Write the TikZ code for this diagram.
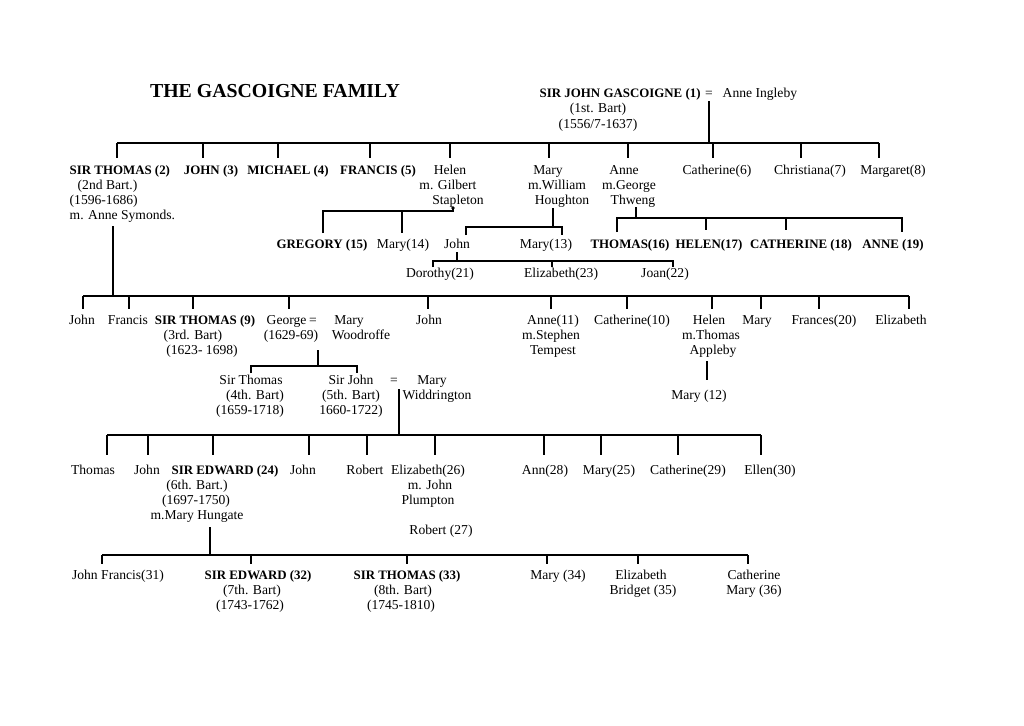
\documentclass[tikz,border=0pt]{standalone}
\usepackage{fontspec}
\setmainfont{Liberation Serif}
\newcommand\mytick[3]{\draw (#1,#2) -- (#1,#3);}
\begin{document}
\begin{tikzpicture}[x=1pt,y=-1pt,
  t/.style={anchor=base,inner sep=0pt,font=\fontsize{13.6}{15}\selectfont},
  tw/.style={t,anchor=base west},
  b/.style={t,font=\fontsize{12.9}{15}\selectfont\bfseries},
  bw/.style={b,anchor=base west},
  every path/.style={line width=1.4pt}]
\useasboundingbox (0,0) rectangle (1024,725);
\fill[white] (0,0) rectangle (1024,725);
% title
\node[anchor=base,inner sep=0pt,font=\fontsize{19.8}{22}\selectfont\bfseries] (title) at (275,97) {THE GASCOIGNE FAMILY};
% generation 1
\node[bw] (sj) at (539,97) {SIR JOHN GASCOIGNE (1)};
\node[t] (eq1) at (709,97) {=};
\node[tw] (ai) at (722,97) {Anne Ingleby};
\node[t] (sj1) at (598,112) {(1st. Bart)};
\node[t] (sj2) at (598,128) {(1556/7-1637)};
\coordinate (m1) at (709,101);
\coordinate (bar1) at (709,143);
\draw (m1) -- (bar1);
\draw (117,143) -- (879,143);
\foreach \x in {117,203,278,370,450,549,628,713,801,879} {\mytick{\x}{143}{158}}
% generation 2
\node[bw] (st2) at (69,174) {SIR THOMAS (2)};
\node[tw] (st2a) at (77,189) {(2nd Bart.)};
\node[tw] (st2b) at (69,204) {(1596-1686)};
\node[tw] (st2c) at (69,219) {m. Anne Symonds.};
\node[b] (j3) at (211,174) {JOHN (3)};
\node[b] (m4) at (288,174) {MICHAEL (4)};
\node[b] (f5) at (378,174) {FRANCIS (5)};
\node[t] (he) at (450,174) {Helen};
\node[t] (hea) at (448,189) {m. Gilbert};
\node[t] (heb) at (458,204) {Stapleton};
\node[t] (ma) at (548,174) {Mary};
\node[t] (maa) at (557,189) {m.William};
\node[t] (mab) at (562,204) {Houghton};
\node[t] (an) at (624,174) {Anne};
\node[t] (ana) at (629,189) {m.George};
\node[t] (anb) at (633,204) {Thweng};
\node[t] (c6) at (717,174) {Catherine(6)};
\node[t] (c7) at (810,174) {Christiana(7)};
\node[t] (m8) at (893,174) {Margaret(8)};
% Stapleton children
\draw (323,233) -- (323,211) -- (453,211) -- (453,207);
\fill (453,208) circle (1.8pt);
\mytick{402}{211}{233}
% Houghton children
\draw (553,208) -- (553,227);
\draw (466,235) -- (466,227) -- (562,227) -- (562,235);
% Thweng children
\draw (636,207) -- (636,218);
\draw (617,232) -- (617,218) -- (902,218) -- (902,232);
\foreach \x in {706,786} {\mytick{\x}{218}{230}}
% generation 3
\node[b] (g15) at (322,248) {GREGORY (15)};
\node[t] (m14) at (403,248) {Mary(14)};
\node[t] (jo) at (457,248) {John};
\node[t] (m13) at (546,248) {Mary(13)};
\node[b] (t16) at (630,248) {THOMAS(16)};
\node[b] (h17) at (709,248) {HELEN(17)};
\node[b] (c18) at (801,248) {CATHERINE (18)};
\node[b] (a19) at (893,248) {ANNE (19)};
% John's children
\draw (457,252) -- (457,261);
\draw (433,267) -- (433,261) -- (673,261) -- (673,267);
\mytick{552}{261}{267}
\node[t] (d21) at (440,277) {Dorothy(21)};
\node[t] (e23) at (561,277) {Elizabeth(23)};
\node[t] (j22) at (665,277) {Joan(22)};
% Sir Thomas (2) children
\draw (113,226) -- (113,296);
\draw (83,296) -- (909,296);
\foreach \x in {83,129,193,289,428,551,627,712,761,819,909} {\mytick{\x}{296}{309}}
\node[t] (r4a) at (82,324) {John};
\node[t] (r4b) at (128,324) {Francis};
\node[b] (st9) at (205,324) {SIR THOMAS (9)};
\node[t] (st9a) at (193,339) {(3rd. Bart)};
\node[t] (st9b) at (202,354) {(1623- 1698)};
\node[tw] (ge) at (266,324) {George};
\node[t] (eq2) at (313,324) {=};
\node[t] (mw) at (349,324) {Mary};
\node[t] (gea) at (291,339) {(1629-69)};
\node[t] (mwa) at (361,339) {Woodroffe};
\node[t] (r4j) at (429,324) {John};
\node[t] (a11) at (553,324) {Anne(11)};
\node[t] (a11a) at (551,339) {m.Stephen};
\node[t] (a11b) at (553,354) {Tempest};
\node[t] (c10) at (632,324) {Catherine(10)};
\node[t] (hl) at (709,324) {Helen};
\node[t] (hla) at (711,339) {m.Thomas};
\node[t] (hlb) at (713,354) {Appleby};
\node[t] (r4m) at (757,324) {Mary};
\node[t] (f20) at (824,324) {Frances(20)};
\node[t] (r4e) at (901,324) {Elizabeth};
% Appleby child
\draw (707,361) -- (707,380);
\node[t] (m12) at (699,399) {Mary (12)};
% George's children
\draw (318,350) -- (318,366);
\draw (251,373) -- (251,366) -- (357,366) -- (357,373);
\node[t] (st4) at (251,384) {Sir Thomas};
\node[t] (st4a) at (255,399) {(4th. Bart)};
\node[t] (st4b) at (250,414) {(1659-1718)};
\node[t] (sj5) at (351,384) {Sir John};
\node[t] (sj5a) at (351,399) {(5th. Bart)};
\node[t] (sj5b) at (351,414) {1660-1722)};
\node[t] (eq3) at (394,384) {=};
\node[t] (mwi) at (432,384) {Mary};
\node[t] (mwia) at (437,399) {Widdrington};
% Sir John (5) children
\draw (399,389) -- (399,435);
\draw (107,435) -- (761,435);
\foreach \x in {107,148,213,309,367,435,544,601,678,761} {\mytick{\x}{435}{455}}
\node[t] (r5a) at (93,474) {Thomas};
\node[t] (r5b) at (147,474) {John};
\node[b] (se24) at (225,474) {SIR EDWARD (24)};
\node[t] (se24a) at (197,489) {(6th. Bart.)};
\node[t] (se24b) at (196,504) {(1697-1750)};
\node[t] (se24c) at (197,519) {m.Mary Hungate};
\node[t] (r5j) at (303,474) {John};
\node[t] (r5r) at (365,474) {Robert};
\node[t] (e26) at (428,474) {Elizabeth(26)};
\node[t] (e26a) at (430,489) {m. John};
\node[t] (e26b) at (428,504) {Plumpton};
\node[t] (r27) at (441,534) {Robert (27)};
\node[t] (a28) at (545,474) {Ann(28)};
\node[t] (m25) at (609,474) {Mary(25)};
\node[t] (c29) at (688,474) {Catherine(29)};
\node[t] (e30) at (770,474) {Ellen(30)};
% Sir Edward (24) children
\draw (210,527) -- (210,555);
\draw (102,555) -- (748,555);
\foreach \x in {102,251,407,547,638,748} {\mytick{\x}{555}{564}}
\node[t] (jf31) at (118,579) {John Francis(31)};
\node[b] (se32) at (258,579) {SIR EDWARD (32)};
\node[t] (se32a) at (252,594) {(7th. Bart)};
\node[t] (se32b) at (250,609) {(1743-1762)};
\node[b] (st33) at (407,579) {SIR THOMAS (33)};
\node[t] (st33a) at (403,594) {(8th. Bart)};
\node[t] (st33b) at (401,609) {(1745-1810)};
\node[t] (m34) at (558,579) {Mary (34)};
\node[t] (eb35) at (641,579) {Elizabeth};
\node[t] (eb35a) at (643,594) {Bridget (35)};
\node[t] (cm36) at (754,579) {Catherine};
\node[t] (cm36a) at (754,594) {Mary (36)};
\end{tikzpicture}
\end{document}
